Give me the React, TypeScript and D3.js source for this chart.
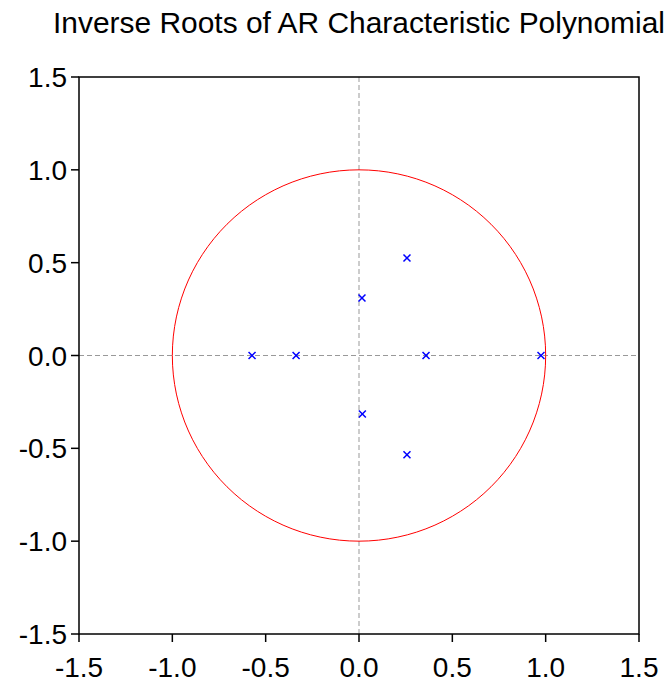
import React from "react";
import * as d3 from "d3";

const title = "Inverse Roots of AR Characteristic Polynomial";
const tickValues = [-1.5, -1.0, -0.5, 0.0, 0.5, 1.0, 1.5];
const rootRe = [-0.573, -0.337, 0.016, 0.018, 0.257, 0.257, 0.359, 0.975];
const rootIm = [0.0, 0.0, 0.31, -0.315, 0.525, -0.535, 0.0, 0.0];
const circleSteps = 120;

const W = 672;
const H = 684;
const left = 79;
const right = 639;
const top = 77;
const bottom = 634;

export default function App() {
  const x = d3.scaleLinear().domain([-1.5, 1.5]).range([left, right]);
  const y = d3.scaleLinear().domain([-1.5, 1.5]).range([bottom, top]);
  const angles = d3.range(circleSteps + 1).map((i) => (i / circleSteps) * 2 * Math.PI);
  const circlePath = d3
    .line<number>()
    .x((a) => x(Math.cos(a)))
    .y((a) => y(Math.sin(a)))(angles) as string;
  const fmt = (v: number) => d3.format(".1f")(v).replace("\u2212", "-");
  const font = "'Liberation Sans', Arial, Helvetica, sans-serif";
  const m = 3.5;
  return (
    <svg
      width={W}
      height={H}
      style={{ position: "absolute", left: 0, top: 0, background: "#fff" }}
    >
      <text
        x={359}
        y={33}
        textAnchor="middle"
        fontFamily={font}
        fontSize={30}
        textLength={612}
        lengthAdjust="spacingAndGlyphs"
        fill="#000"
      >
        {title}
      </text>
      {/* zero lines */}
      <line x1={x(0)} x2={x(0)} y1={top} y2={bottom} stroke="#999" strokeWidth={1} strokeDasharray="5,3" />
      <line x1={left} x2={right} y1={y(0)} y2={y(0)} stroke="#999" strokeWidth={1} strokeDasharray="5,3" />
      {/* unit circle */}
      <path d={circlePath} fill="none" stroke="#ff0000" strokeWidth={1} />
      {/* roots */}
      {rootRe.map((r, i) => {
        const cx = x(r);
        const cy = y(rootIm[i]);
        return (
          <g key={i} stroke="#0000ff" strokeWidth={1.5}>
            <line x1={cx - m} y1={cy - m} x2={cx + m} y2={cy + m} />
            <line x1={cx - m} y1={cy + m} x2={cx + m} y2={cy - m} />
          </g>
        );
      })}
      {/* frame */}
      <rect x={left} y={top} width={right - left} height={bottom - top} fill="none" stroke="#000" strokeWidth={1.5} />
      {/* y axis ticks */}
      {tickValues.map((v) => (
        <g key={"y" + v}>
          <line x1={left - 8} x2={left} y1={y(v)} y2={y(v)} stroke="#000" strokeWidth={1.5} />
          <text
            x={left - 12}
            y={y(v)}
            dy="0.36em"
            textAnchor="end"
            fontFamily={font}
            fontSize={28}
            fill="#000"
          >
            {fmt(v)}
          </text>
        </g>
      ))}
      {/* x axis ticks */}
      {tickValues.map((v) => (
        <g key={"x" + v}>
          <line x1={x(v)} x2={x(v)} y1={bottom} y2={bottom + 8} stroke="#000" strokeWidth={1.5} />
          <text
            x={x(v)}
            y={677}
            textAnchor="middle"
            fontFamily={font}
            fontSize={28}
            fill="#000"
          >
            {fmt(v)}
          </text>
        </g>
      ))}
    </svg>
  );
}
